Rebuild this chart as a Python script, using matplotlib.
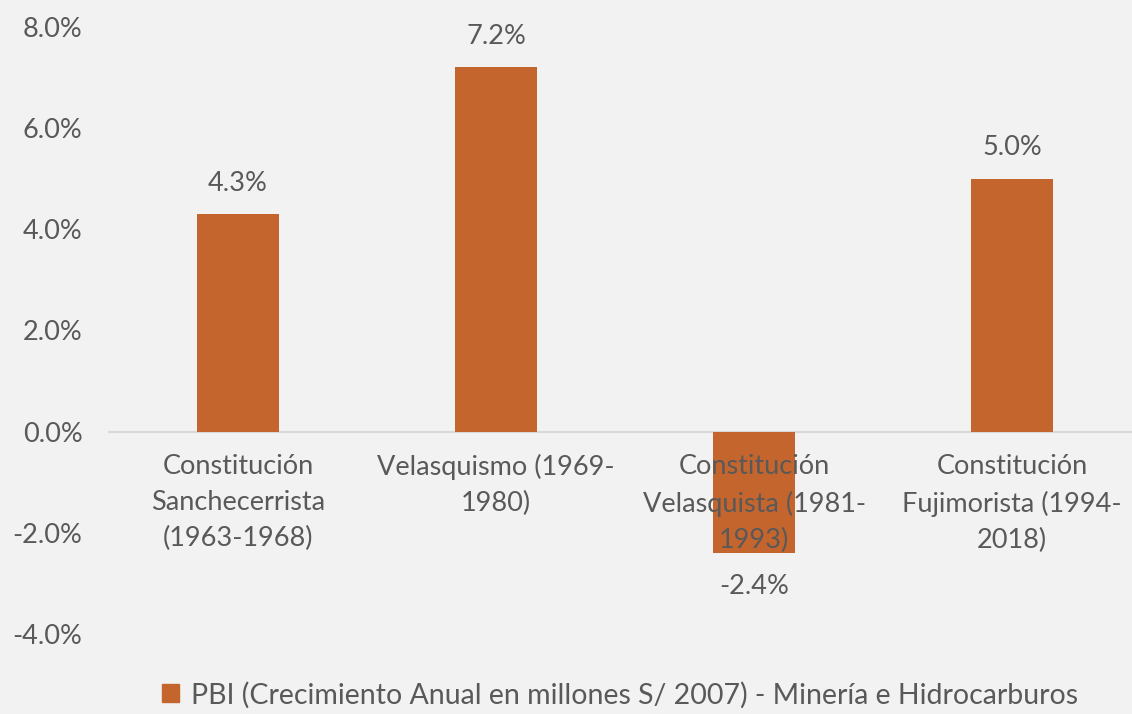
import matplotlib
matplotlib.use('Agg')
import matplotlib.pyplot as plt
from matplotlib.patches import Patch

plt.rcParams['font.family'] = ['Lato', 'DejaVu Sans']

# Data
categories = ['Constitución\nSanchecerrista\n(1963-1968)',
              'Velasquismo (1969-\n1980)',
              'Constitución\nVelasquista (1981-\n1993)',
              'Constitución\nFujimorista (1994-\n2018)']
values = [4.3, 7.2, -2.4, 5.0]
series_name = 'PBI (Crecimiento Anual en millones S/ 2007) - Minería e Hidrocarburos'
yticks = [-4, -2, 0, 2, 4, 6, 8]

bg = '#f2f2f2'
bar_color = '#c5652e'
text_color = '#595959'
fs = 19.5

fig = plt.figure(figsize=(11.32, 7.14), dpi=100, facecolor=bg)
ax = fig.add_axes([109 / 1132, 1 - 634 / 714, 1 - 109 / 1132, (634 - 27) / 714])
ax.set_facecolor(bg)

x = range(len(categories))
ax.bar(x, values, width=0.32, color=bar_color, zorder=1)

ax.set_xlim(-0.5, 3.465)
ax.set_ylim(-4, 8)
ax.set_yticks(yticks)
ax.set_yticklabels([f'{v:.1f}%' for v in yticks])

ax.set_xticks(list(x))
ax.set_xticklabels(categories)

for s in ['top', 'right', 'left']:
    ax.spines[s].set_visible(False)
ax.spines['bottom'].set_position(('data', 0))
ax.spines['bottom'].set_color('#d9d9d9')
ax.spines['bottom'].set_linewidth(1.5)
ax.spines['bottom'].set_zorder(0.5)

ax.tick_params(axis='both', length=0, labelsize=fs, labelcolor=text_color)
ax.tick_params(axis='x', pad=16)
ax.tick_params(axis='y', pad=19)
for lbl in ax.get_xticklabels():
    lbl.set_linespacing(1.55)

# data labels
for xi, v in zip(x, values):
    off = 31 if v >= 0 else -33
    ax.annotate(f'{v:.1f}%', (xi, v), xytext=(0, off), textcoords='offset pixels',
                ha='center', va='center', fontsize=fs, color=text_color)

fig.legend(handles=[Patch(color=bar_color, label=series_name)], loc='center',
           bbox_to_anchor=(620 / 1132, 1 - 695 / 714), frameon=False,
           fontsize=20.5, labelcolor=text_color, handlelength=0.6, handleheight=0.6,
           handletextpad=0.4)

fig.savefig('out.png', dpi=100, facecolor=bg)
